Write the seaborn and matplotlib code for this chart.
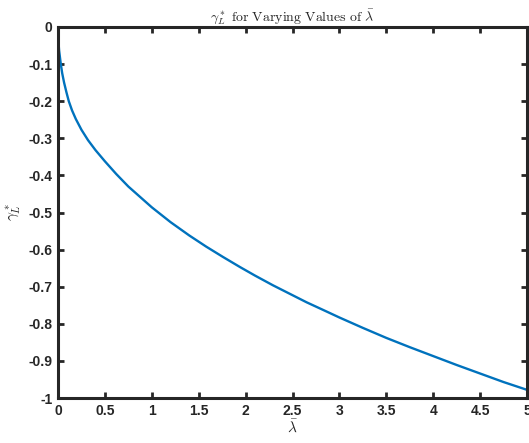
import matplotlib
matplotlib.use('Agg')
import matplotlib.pyplot as plt
import seaborn as sns
import pandas as pd

# values
lam_bar = [0, 0.004, 0.012, 0.03, 0.045, 0.065, 0.09, 0.115, 0.15, 0.19, 0.25, 0.32,
           0.4, 0.5, 0.62, 0.75, 1.0, 1.2, 1.4, 1.58, 1.76, 1.94, 2.1, 2.29, 2.47,
           2.65, 2.83, 3.0, 3.25, 3.5, 3.75, 4.0, 4.25, 4.5, 4.75, 5.0]
gamma_L = [0, -0.037, -0.064, -0.100, -0.125, -0.150, -0.176, -0.200, -0.225, -0.248, -0.277, -0.305,
           -0.332, -0.362, -0.396, -0.430, -0.486, -0.526, -0.562, -0.592, -0.620, -0.647, -0.670,
           -0.696, -0.719, -0.742, -0.763, -0.783, -0.811, -0.838, -0.863, -0.887, -0.911, -0.934,
           -0.957, -0.978]

x_ticks = [0, 0.5, 1, 1.5, 2, 2.5, 3, 3.5, 4, 4.5, 5]
y_ticks = [0, -0.1, -0.2, -0.3, -0.4, -0.5, -0.6, -0.7, -0.8, -0.9, -1]
x_ticklabels = ['0', '0.5', '1', '1.5', '2', '2.5', '3', '3.5', '4', '4.5', '5']
y_ticklabels = ['0', '-0.1', '-0.2', '-0.3', '-0.4', '-0.5', '-0.6', '-0.7', '-0.8', '-0.9', '-1']

df = pd.DataFrame({'lam': lam_bar, 'gamma': gamma_L})

sns.set_style('ticks')
plt.rcParams['font.family'] = ['Liberation Sans', 'DejaVu Sans']
plt.rcParams['mathtext.fontset'] = 'cm'

fig = plt.figure(figsize=(5.29, 4.43), dpi=100)
ax = fig.add_axes([58 / 529, 45 / 443, 469 / 529, 371 / 443])

sns.lineplot(data=df, x='lam', y='gamma', ax=ax, color='#0072BD', linewidth=1.7)

ax.set_xlim(0, 5)
ax.set_ylim(-1, 0)
ax.set_xticks(x_ticks)
ax.set_xticklabels(x_ticklabels)
ax.set_yticks(y_ticks)
ax.set_yticklabels(y_ticklabels)

for s in ax.spines.values():
    s.set_visible(True)
    s.set_linewidth(2.2)
    s.set_color('#262626')
ax.tick_params(direction='in', length=4, width=2, colors='#262626',
               top=True, right=True, labelsize=10, pad=4)
for lab in ax.get_xticklabels() + ax.get_yticklabels():
    lab.set_fontweight('bold')
    lab.set_color('#262626')

ax.set_title(r'$\gamma_L^*\ \mathrm{for\ Varying\ Values\ of}\ \bar{\lambda}$',
             fontsize=10, pad=4)
ax.set_xlabel(r'$\bar{\lambda}$', fontsize=11, labelpad=0)
ax.set_ylabel(r'$\gamma_L^*$', fontsize=11, labelpad=4)

fig.savefig('out.png', dpi=100)
